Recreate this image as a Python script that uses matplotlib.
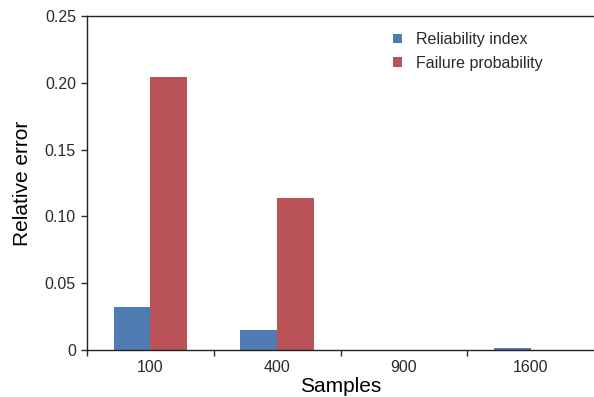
import matplotlib
matplotlib.use("Agg")
import matplotlib.pyplot as plt
import numpy as np

samples = ["100", "400", "900", "1600"]
reliability_index = [0.0322, 0.0150, 0.0, 0.0012]
failure_probability = [0.2043, 0.1138, 0.0, 0.0]
y_ticks = [0, 0.05, 0.10, 0.15, 0.20, 0.25]
y_tick_labels = ["0", "0.05", "0.10", "0.15", "0.20", "0.25"]

BLUE = "#4F7DB3"
RED = "#B95357"

plt.rcParams.update({
    "font.family": ["Liberation Sans", "DejaVu Sans"],
    "text.color": "#2a2a2a",
    "xtick.color": "#2a2a2a",
    "ytick.color": "#2a2a2a",
})

fig = plt.figure(figsize=(5.94, 3.97), dpi=100)
ax = fig.add_axes([0.1465, 0.1184, 0.8535, 0.8413])

x = np.arange(len(samples))
w = 0.29
ax.bar(x - w / 2, reliability_index, width=w, color=BLUE, label="Reliability index")
ax.bar(x + w / 2, failure_probability, width=w, color=RED, label="Failure probability")

ax.set_xlim(-0.5, len(samples) - 0.5)
ax.set_ylim(0, 0.25)
ax.set_yticks(y_ticks)
ax.set_yticklabels(y_tick_labels)
ax.set_xticks(x)
ax.set_xticklabels(samples)
ax.set_xticks(np.arange(len(samples)) - 0.5, minor=True)
ax.tick_params(axis="x", which="major", length=0, labelsize=11.5, pad=7)
ax.tick_params(axis="x", which="minor", length=4, direction="out", width=1)
ax.tick_params(axis="y", length=4, direction="out", width=1, labelsize=11.5, pad=4)

ax.spines["right"].set_visible(False)
for s in ["top", "bottom", "left"]:
    ax.spines[s].set_linewidth(1.0)
    ax.spines[s].set_color("#222222")

ax.set_xlabel("Samples", fontsize=15, labelpad=2)
ax.set_ylabel("Relative error", fontsize=15, labelpad=9)

ax.legend(
    loc="upper right",
    bbox_to_anchor=(0.928, 0.995),
    frameon=False,
    fontsize=11.5,
    handlelength=0.55,
    handleheight=0.55,
    handletextpad=0.9,
    labelspacing=0.55,
)

fig.savefig("out.png", dpi=100)
